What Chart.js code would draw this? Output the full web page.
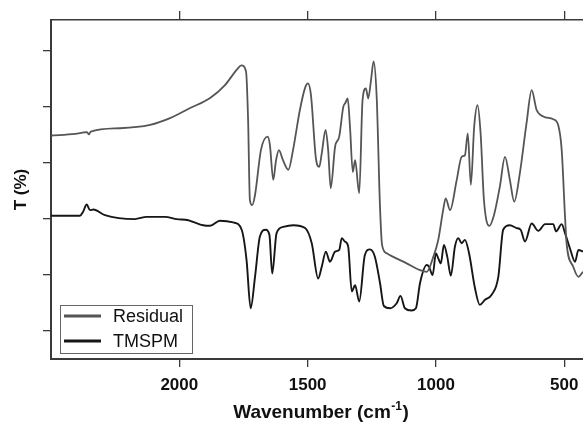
<!DOCTYPE html>
<html>
<head>
<meta charset="utf-8">
<script src="https://cdn.jsdelivr.net/npm/chart.js@4.4.0/dist/chart.umd.min.js"></script>
<style>
  html, body { margin: 0; padding: 0; background: #fff; }
</style>
</head>
<body>
<canvas id="ftir" width="583" height="424"></canvas>
<script>
// wavenumber (cm-1) and transmittance
const residualWn = [2500, 2406, 2360, 2352, 2345, 2231, 2114, 2036, 1958, 1880, 1822, 1775, 1758, 1740,
    1732, 1725, 1716, 1705, 1682, 1656, 1647, 1634, 1623, 1612, 1596, 1575, 1557, 1530, 1510, 1499,
    1487, 1468, 1455, 1445, 1430, 1420, 1410, 1393, 1377, 1361, 1353, 1344, 1335, 1324, 1315, 1299,
    1286, 1273, 1264, 1253, 1243, 1231, 1218, 1210, 1192, 1114, 1062, 1036, 1010, 991, 972, 962,
    945, 919, 900, 887, 876, 864, 851, 838, 826, 813, 792, 774, 751, 731, 712, 695, 673, 647, 627,
    608, 582, 543, 524, 510, 497, 491, 465, 445, 427];
const residualT = [44.8, 45.1, 45.4, 45.0, 45.5, 46.1, 46.7, 47.9, 49.7, 51.5, 53.8, 56.6, 57.3, 56.2,
    47.6, 33.3, 32.4, 34.2, 42.2, 44.6, 43.1, 36.9, 40.4, 42.2, 40.4, 38.7, 42.2, 49.4, 53.3, 54.1,
    52.0, 40.8, 39.2, 41.6, 45.8, 42.2, 35.4, 42.8, 44.6, 49.9, 50.6, 51.4, 46.4, 38.3, 40.4, 34.5,
    51.1, 53.2, 51.4, 54.7, 58.0, 51.7, 32.1, 25.3, 23.8, 22.0, 20.8, 20.5, 23.2, 26.2, 31.5, 33.6,
    31.5, 36.9, 41.0, 41.3, 45.2, 36.0, 46.4, 50.2, 45.2, 33.3, 28.7, 30.6, 35.7, 41.0, 36.9, 33.0,
    38.1, 47.0, 52.9, 49.4, 48.2, 47.7, 46.7, 42.2, 30.3, 25.6, 21.4, 19.6, 20.5];

const tmspmWn = [2500, 2387, 2375, 2361, 2348, 2335, 2290, 2173, 2127, 2056, 2010, 1965, 1946, 1907,
    1880, 1842, 1790, 1757, 1738, 1722, 1705, 1686, 1663, 1649, 1638, 1621, 1595, 1556, 1510, 1484,
    1459, 1445, 1429, 1413, 1393, 1377, 1367, 1355, 1342, 1328, 1315, 1299, 1277, 1257, 1238, 1218,
    1203, 1179, 1153, 1138, 1121, 1095, 1078, 1062, 1036, 1027, 1013, 1000, 991, 981, 969, 956, 942,
    926, 913, 900, 887, 871, 848, 829, 809, 783, 757, 738, 712, 686, 670, 653, 627, 601, 575, 543,
    532, 510, 497, 478, 458, 445, 427];
const tmspmT = [30.5, 30.5, 31.2, 32.5, 31.5, 31.6, 30.6, 29.9, 30.3, 30.3, 29.9, 29.7, 29.4, 28.8,
    28.7, 29.6, 29.3, 28.0, 22.6, 14.0, 19.6, 26.8, 28.0, 27.1, 20.2, 27.4, 28.5, 28.8, 28.3, 25.6,
    19.3, 21.4, 24.1, 22.3, 24.1, 24.4, 26.5, 25.9, 25.0, 17.0, 18.1, 15.2, 23.5, 24.5, 23.2, 18.5,
    14.4, 14.0, 14.9, 16.2, 14.0, 13.6, 14.0, 18.5, 21.7, 21.4, 19.9, 23.8, 22.9, 22.0, 25.3, 23.2, 19.8,
    25.0, 26.5, 25.6, 26.2, 23.8, 17.6, 14.6, 15.5, 16.4, 19.6, 28.0, 28.8, 28.3, 28.0, 25.9, 29.1, 27.8, 29.0, 29.0,
    27.7, 29.0, 27.4, 24.7, 22.3, 24.4, 24.1];

const xTicks = [2000, 1500, 1000, 500];
const yTicks = [10, 20, 30, 40, 50, 60];

const axisColor = '#3a3a3a';
const fontFamily = '"Liberation Sans", Arial, sans-serif';

function toPoints(xs, ys) {
    return xs.map((x, i) => ({ x: x, y: ys[i] }));
}

// the plot runs right up to the edge of the picture, so no room is kept for the 500 label
function fitX(axis, h) {
    axis.height = h;
    axis.paddingLeft = 0;
    axis.paddingRight = 0;
}

// legend box and the x title (it needs a superscript)
const extraText = {
    id: 'extraText',
    afterDraw(chart) {
        const ctx = chart.ctx;
        ctx.save();
        ctx.fillStyle = '#fff';
        ctx.strokeStyle = '#666';
        ctx.lineWidth = 1;
        ctx.fillRect(60.5, 305.5, 132, 48);
        ctx.strokeRect(60.5, 305.5, 132, 48);
        chart.data.datasets.forEach((ds, i) => {
            const y = 316 + i * 25;
            ctx.strokeStyle = ds.borderColor;
            ctx.lineWidth = 2.8;
            ctx.beginPath();
            ctx.moveTo(64, y);
            ctx.lineTo(101, y);
            ctx.stroke();
            ctx.fillStyle = '#111';
            ctx.font = '18px ' + fontFamily;
            ctx.textBaseline = 'middle';
            ctx.textAlign = 'left';
            ctx.fillText(ds.label, 113, y + 1);
        });

        const main1 = 'Wavenumber (cm';
        const sup = '-1';
        const main2 = ')';
        const bigFont = 'bold 19px ' + fontFamily;
        const smallFont = 'bold 12px ' + fontFamily;
        ctx.font = bigFont;
        const w1 = ctx.measureText(main1).width;
        const w3 = ctx.measureText(main2).width;
        ctx.font = smallFont;
        const w2 = ctx.measureText(sup).width;
        let x = 320.5 - (w1 + w2 + w3) / 2;
        const base = 418;
        ctx.fillStyle = '#111';
        ctx.textBaseline = 'alphabetic';
        ctx.font = bigFont;
        ctx.fillText(main1, x, base);
        x += w1;
        ctx.font = smallFont;
        ctx.fillText(sup, x + 0.5, base - 8);
        x += w2 + 1;
        ctx.font = bigFont;
        ctx.fillText(main2, x, base);
        ctx.restore();
    }
};

const myChart = new Chart(document.getElementById('ftir'), {
    type: 'line',
    data: {
        datasets: [{
            label: 'Residual',
            data: toPoints(residualWn, residualT),
            borderColor: '#555555',
            borderWidth: 1.8,
            pointRadius: 0,
            cubicInterpolationMode: 'monotone'
        }, {
            label: 'TMSPM',
            data: toPoints(tmspmWn, tmspmT),
            borderColor: '#161616',
            borderWidth: 1.9,
            pointRadius: 0,
            cubicInterpolationMode: 'monotone'
        }]
    },
    options: {
        responsive: false,
        animation: false,
        layout: { padding: 0 },
        plugins: {
            legend: { display: false },
            tooltip: { enabled: false }
        },
        scales: {
            x: {
                type: 'linear',
                reverse: true,
                min: 427,
                max: 2500,
                position: 'bottom',
                afterBuildTicks: (axis) => { axis.ticks = xTicks.map(v => ({ value: v })); },
                afterFit: (axis) => fitX(axis, 65),
                grid: { drawOnChartArea: false, tickLength: 8, color: axisColor, lineWidth: 1.3 },
                border: { display: true, color: axisColor, width: 2 },
                ticks: {
                    color: '#111',
                    padding: 8,
                    maxRotation: 0,
                    callback: (v) => String(v),
                    font: { family: fontFamily, size: 17, weight: 'bold' }
                }
            },
            xTop: {
                type: 'linear',
                reverse: true,
                min: 427,
                max: 2500,
                position: 'top',
                afterBuildTicks: (axis) => { axis.ticks = xTicks.map(v => ({ value: v })); },
                afterFit: (axis) => fitX(axis, 20),
                grid: { drawOnChartArea: false, tickLength: 9, color: axisColor, lineWidth: 1.3 },
                border: { display: true, color: axisColor, width: 1.5 },
                ticks: { display: false }
            },
            y: {
                min: 4.95,
                max: 65.4,
                afterBuildTicks: (axis) => { axis.ticks = yTicks.map(v => ({ value: v })); },
                afterFit: (axis) => { axis.width = 51; },
                grid: { drawOnChartArea: false, tickLength: 8, color: axisColor, lineWidth: 1.3 },
                border: { display: true, color: axisColor, width: 2 },
                ticks: { display: false },
                title: {
                    display: true,
                    text: 'T (%)',
                    color: '#111',
                    padding: { top: 11, bottom: 0 },
                    font: { family: fontFamily, size: 17, weight: 'bold' }
                }
            }
        }
    },
    plugins: [extraText]
});
</script>
</body>
</html>
